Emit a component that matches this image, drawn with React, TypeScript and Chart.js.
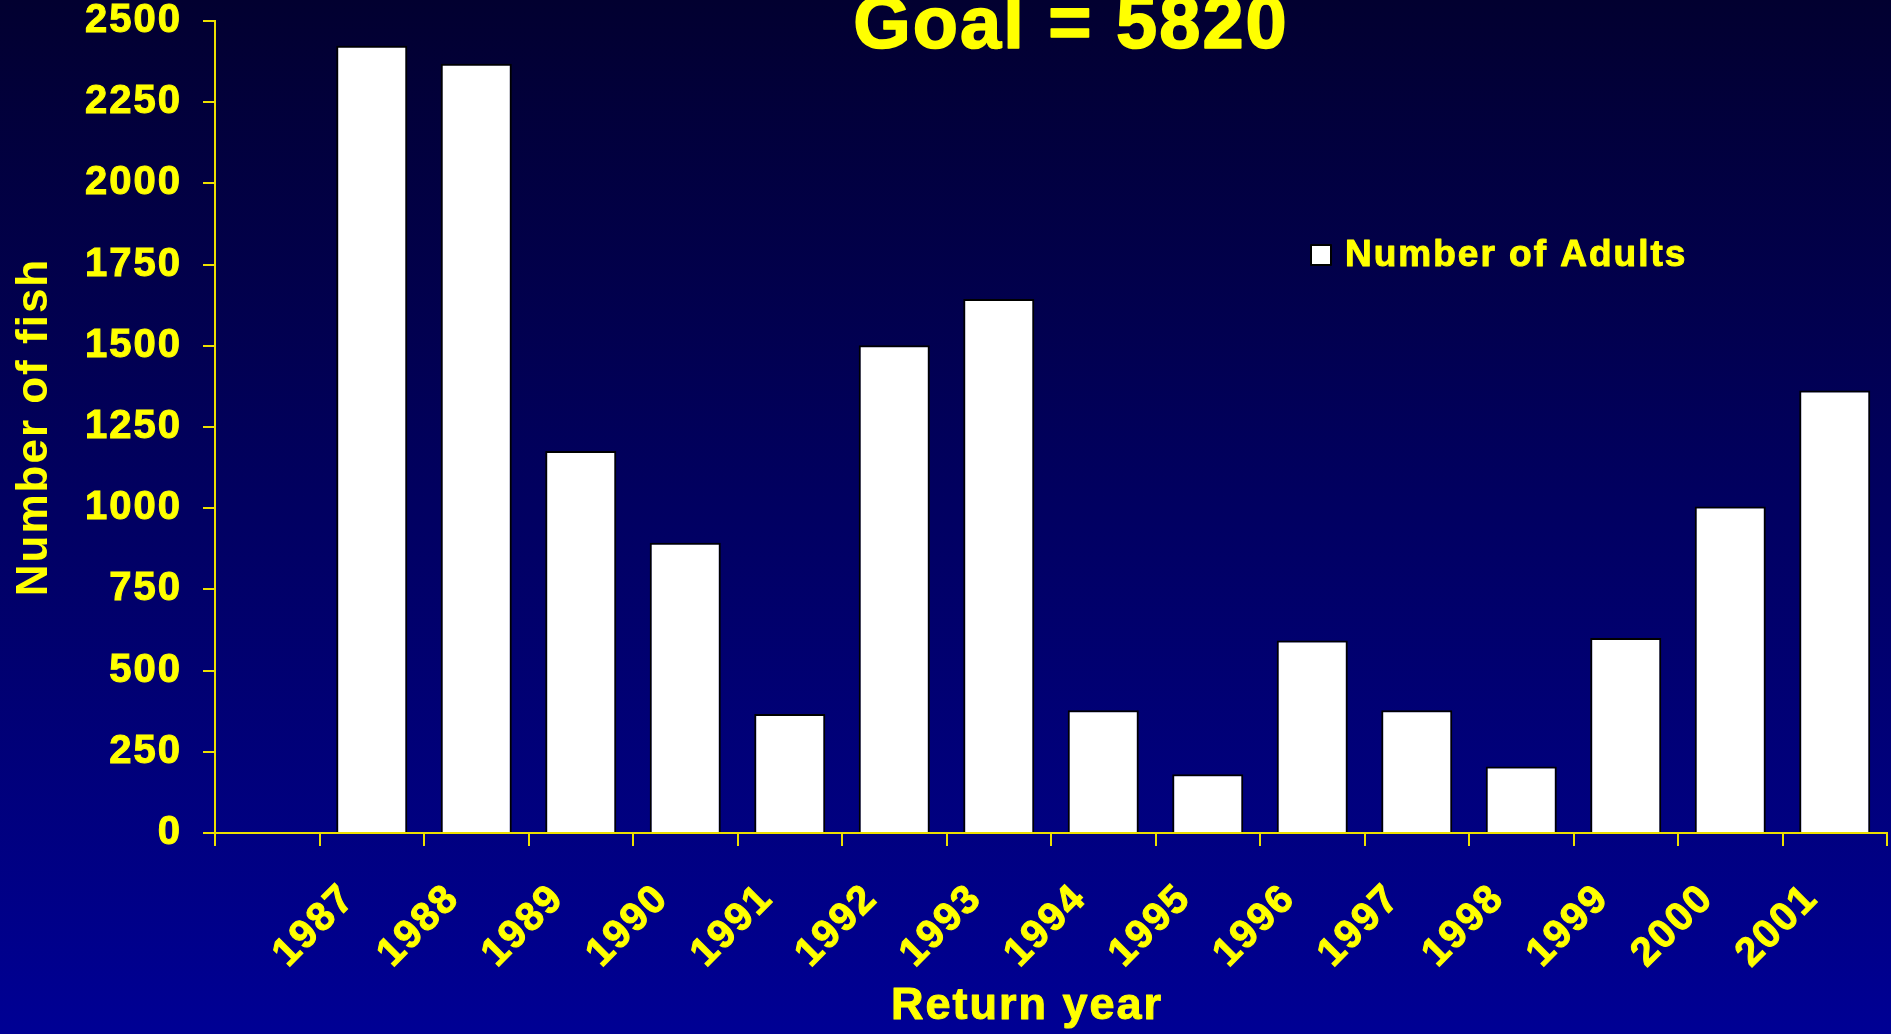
import React, { useEffect, useRef } from 'react';
import { Chart, registerables } from 'chart.js';

Chart.register(...registerables);

// ---- data ----
const categories: string[] = ['', '1987', '1988', '1989', '1990', '1991', '1992', '1993', '1994', '1995', '1996', '1997', '1998', '1999', '2000', '2001'];
const adults: (number | null)[] = [null, 2424, 2368, 1176, 894, 366, 1502, 1644, 378, 181, 593, 378, 205, 600, 1005, 1362];
const yTickValues: number[] = [0, 250, 500, 750, 1000, 1250, 1500, 1750, 2000, 2250, 2500];
const chartTitle = 'Goal = 5820';
const seriesName = 'Number of Adults';
const xTitle = 'Return year';
const yTitle = 'Number of fish';

const FONT = '"Liberation Sans", Arial, Helvetica, sans-serif';
const YELLOW = '#FFFF00';
const LINE = '#EDE000';

export default function App() {
  const ref = useRef<HTMLCanvasElement>(null);

  useEffect(() => {
    document.body.style.margin = '0';
    document.body.style.background = '#000060';
    const canvas = ref.current;
    if (!canvas) return;

    const background = {
      id: 'gradientBackground',
      beforeDraw(chart: any) {
        const { ctx, width, height } = chart;
        const g = ctx.createLinearGradient(0, 0, 0, height);
        g.addColorStop(0, '#020030');
        g.addColorStop(1, '#000094');
        ctx.save();
        ctx.fillStyle = g;
        ctx.fillRect(0, 0, width, height);
        ctx.restore();
      },
    };

    const spacing = {
      id: 'letterSpacing',
      beforeLayout(chart: any) {
        chart.ctx.letterSpacing = '2px';
      },
      beforeDraw(chart: any) {
        chart.ctx.letterSpacing = '2px';
      },
    };

    const drawText = (ctx: any, text: string, x: number, y: number) => {
      ctx.fillText(text, x, y);
      ctx.strokeText(text, x, y);
    };

    const overlay = {
      id: 'overlayTexts',
      afterDraw(chart: any) {
        const ctx = chart.ctx;
        ctx.save();
        ctx.letterSpacing = '2px';
        ctx.fillStyle = YELLOW;
        ctx.strokeStyle = YELLOW;
        ctx.lineJoin = 'round';

        // chart title (partly cut off at the top, as in the reference)
        ctx.font = `bold 74px ${FONT}`;
        ctx.textAlign = 'center';
        ctx.textBaseline = 'alphabetic';
        ctx.lineWidth = 1.6;
        drawText(ctx, chartTitle, 1071, 48);

        // x axis title
        ctx.lineWidth = 1;
        ctx.font = `bold 45px ${FONT}`;
        ctx.textBaseline = 'middle';
        drawText(ctx, xTitle, 1027, 1007);

        // legend
        ctx.fillStyle = '#FFFFFF';
        ctx.strokeStyle = '#000000';
        ctx.lineWidth = 2;
        ctx.fillRect(1311, 245, 20, 20);
        ctx.strokeRect(1311, 245, 20, 20);
        ctx.fillStyle = YELLOW;
        ctx.strokeStyle = YELLOW;
        ctx.lineWidth = 1;
        ctx.font = `bold 37px ${FONT}`;
        ctx.textAlign = 'left';
        ctx.textBaseline = 'middle';
        drawText(ctx, seriesName, 1345, 256);
        ctx.restore();
      },
    };

    const chart = new Chart(canvas, {
      type: 'bar',
      data: {
        labels: categories,
        datasets: [
          {
            label: seriesName,
            data: adults,
            backgroundColor: '#FFFFFF',
            borderColor: '#000000',
            borderWidth: 2,
            borderSkipped: 'start',
            categoryPercentage: 1,
            barPercentage: 0.68,
          },
        ],
      },
      options: {
        responsive: false,
        animation: false,
        devicePixelRatio: 1,
        layout: { padding: { top: 21, right: 4, bottom: 0, left: 0 } },
        plugins: {
          legend: { display: false },
          title: { display: false },
          tooltip: { enabled: false },
        },
        scales: {
          x: {
            type: 'category',
            offset: true,
            grid: {
              display: true,
              drawOnChartArea: false,
              offset: true,
              tickLength: 13,
              color: LINE,
              lineWidth: 2,
            },
            border: { display: true, color: LINE, width: 2, z: 1 },
            ticks: {
              color: YELLOW,
              textStrokeColor: YELLOW,
              textStrokeWidth: 1,
              font: { family: FONT, size: 40, weight: 'bold' },
              minRotation: 45,
              maxRotation: 45,
              autoSkip: false,
              padding: 29,
              labelOffset: -23,
            },
            afterFit(scale: any) {
              scale.height = 201;
              scale.paddingLeft = 0;
              scale.paddingRight = 0;
            },
          },
          y: {
            min: 0,
            max: 2500,
            grid: {
              display: true,
              drawOnChartArea: false,
              tickLength: 12,
              color: LINE,
              lineWidth: 2,
            },
            border: { display: true, color: LINE, width: 2, z: 1 },
            ticks: {
              color: YELLOW,
              textStrokeColor: YELLOW,
              textStrokeWidth: 1,
              font: { family: FONT, size: 40, weight: 'bold', lineHeight: 1 },
              padding: 21,
              stepSize: 250,
              callback: (value: any) => String(value),
            },
            afterBuildTicks(scale: any) {
              scale.ticks = yTickValues.map((v) => ({ value: v }));
            },
            title: {
              display: true,
              text: yTitle,
              color: YELLOW,
              font: { family: FONT, size: 44, weight: 'bold' },
              padding: { top: 8, bottom: 0 },
            },
            afterFit(scale: any) {
              scale.width = 215;
              scale.paddingTop = 0;
              scale.paddingBottom = 0;
            },
          },
        },
      },
      plugins: [background, spacing, overlay],
    } as any);

    return () => {
      chart.destroy();
    };
  }, []);

  return (
    <div style={{ width: 1891, height: 1034, overflow: 'hidden' }}>
      <canvas ref={ref} width={1891} height={1034} style={{ display: 'block', width: 1891, height: 1034 }} />
    </div>
  );
}
